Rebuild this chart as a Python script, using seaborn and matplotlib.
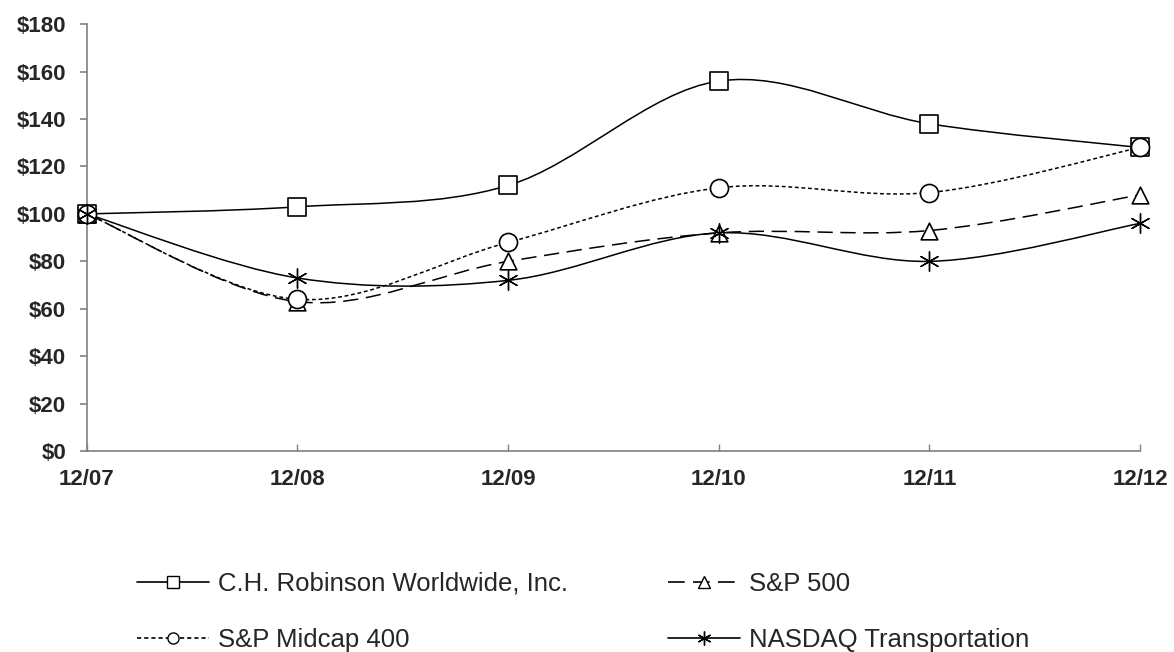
import numpy as np
import pandas as pd
import seaborn as sns
import matplotlib.pyplot as plt
from matplotlib.path import Path
from matplotlib.patches import PathPatch
from matplotlib.lines import Line2D

# data
periods = ["12/07", "12/08", "12/09", "12/10", "12/11", "12/12"]
chrw = [100, 103, 112, 156, 138, 128]
sp500 = [100, 63, 80, 92, 93, 108]
midcap = [100, 64, 88, 111, 109, 128]
nasdaq_trans = [100, 73, 72, 92, 80, 96]

names = ["C.H. Robinson Worldwide, Inc.", "S&P 500", "S&P Midcap 400", "NASDAQ Transportation"]
values = [chrw, sp500, midcap, nasdaq_trans]

rows = []
for name, vals in zip(names, values):
    for i, v in enumerate(vals):
        rows.append({"x": i, "y": v, "Series": name})
df = pd.DataFrame(rows)

# styles
markers = {names[0]: "s", names[1]: "^", names[2]: "o", names[3]: (6, 2, 0)}
dash = {names[0]: "-", names[1]: (0, (10, 5)), names[2]: (0, (2.5, 1.8)), names[3]: "-"}
msize = {names[0]: 13, names[1]: 12, names[2]: 13, names[3]: 14}

sns.set_style("white")
plt.rcParams['font.family'] = ['Liberation Sans', 'DejaVu Sans']

fig = plt.figure(figsize=(11.74, 6.52), dpi=100)
ax = fig.add_axes([0.074, 0.308, 0.897, 0.655])


def smooth_path(xs, ys):
    # excel-like smoothed line: cubic bezier through every point
    pts = np.column_stack([xs, ys]).astype(float)
    padded = np.vstack([pts[0], pts, pts[-1]])
    verts = [pts[0]]
    codes = [Path.MOVETO]
    for i in range(len(pts) - 1):
        p0, p1, p2, p3 = padded[i], padded[i + 1], padded[i + 2], padded[i + 3]
        c1 = p1 + (p2 - p0) / 6.0
        c2 = p2 - (p3 - p1) / 6.0
        verts += [c1, c2, p2]
        codes += [Path.CURVE4] * 3
    return Path(verts, codes)


for name in names:
    sub = df[df["Series"] == name]
    patch = PathPatch(smooth_path(sub["x"], sub["y"]), facecolor="none",
                      edgecolor="black", lw=1.1, linestyle=dash[name], zorder=2)
    patch.set_clip_on(False)
    ax.add_patch(patch)

for name in names:
    sub = df[df["Series"] == name]
    star = name == names[3]
    sns.scatterplot(x="x", y="y", data=sub, ax=ax, marker=markers[name],
                    s=msize[name] ** 2, facecolor="white" if not star else "black",
                    edgecolor="black", linewidth=1.2 if not star else 1.0,
                    zorder=3, legend=False)
    ax.collections[-1].set_clip_on(False)

ax.set_xlim(0, len(periods) - 1)
ax.set_ylim(0, 180)
ax.set_xticks(range(len(periods)))
ax.set_xticklabels(periods)
ax.set_yticks(range(0, 181, 20))
ax.set_yticklabels([f"${v}" for v in range(0, 181, 20)])
ax.set_xlabel("")
ax.set_ylabel("")

for side in ["top", "right"]:
    ax.spines[side].set_visible(False)
for side in ["left", "bottom"]:
    ax.spines[side].set_color("#808080")
    ax.spines[side].set_linewidth(1.2)
ax.tick_params(axis="y", left=True, direction="out", length=5, width=1.2,
               color="#808080", labelsize=16, pad=10)
ax.tick_params(axis="x", bottom=True, direction="in", length=5, width=1.0,
               color="#808080", labelsize=16, pad=13)
for lab in ax.get_xticklabels() + ax.get_yticklabels():
    lab.set_fontweight("bold")

handles = []
for name in names:
    star = name == names[3]
    handles.append(Line2D([0], [0], color="black", lw=1.2, linestyle=dash[name],
                          marker=markers[name], markersize=8 if not star else 10,
                          markerfacecolor="black" if star else "white",
                          markeredgecolor="black", markeredgewidth=1.0))
order = [0, 2, 1, 3]
fig.legend([handles[i] for i in order], [names[i] for i in order],
           loc="lower left", bbox_to_anchor=(137 / 1174, 0.0), ncol=2, frameon=False,
           fontsize=18.5, handlelength=2.8, columnspacing=3.9, labelspacing=1.25,
           handletextpad=0.35, borderpad=0, borderaxespad=0)

plt.savefig("out.png", dpi=100)
